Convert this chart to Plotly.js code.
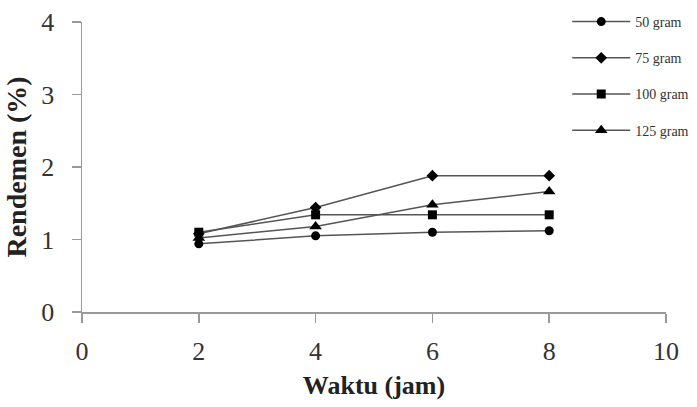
<!DOCTYPE html>
<html><head><meta charset="utf-8">
<script src="https://cdn.plot.ly/plotly-3.0.1.min.js"></script>
<style>html,body{margin:0;padding:0;background:#fff}</style>
</head><body>
<div id="chart" style="width:697px;height:407px"></div>
<script>
const waktu = [2, 4, 6, 8];
const seriesNames = ["50 gram", "75 gram", "100 gram", "125 gram"];
const g50 = [0.94, 1.05, 1.10, 1.12];
const g75 = [1.08, 1.44, 1.88, 1.88];
const g100 = [1.10, 1.34, 1.34, 1.34];
const g125 = [1.02, 1.18, 1.48, 1.66];
const xTicks = [0, 2, 4, 6, 8, 10];
const yTicks = [0, 1, 2, 3, 4];

const symbols = ["circle", "diamond", "square", "triangle-up"];
const sizes = [9, 9, 9, 11];
const data = [g50, g75, g100, g125].map((ys, i) => ({
  x: waktu, y: ys, name: seriesNames[i], type: "scatter", mode: "lines+markers",
  legendgroup: "g" + i,
  line: {color: "#555", width: 1.5},
  marker: {symbol: symbols[i], size: sizes[i], color: "#000"}
}));

const layout = {
  width: 697, height: 407,
  margin: {l: 82, r: 0, t: 6, b: 95},
  paper_bgcolor: "#fff", plot_bgcolor: "#fff",
  font: {family: "Liberation Serif, Times New Roman, serif", color: "#222"},
  showlegend: true,
  legend: {x: 0.789, y: 1, xanchor: "left", yanchor: "top",
    font: {size: 14, family: "Liberation Serif, serif", color: "#333"},
    itemwidth: 58, tracegroupgap: 15, bgcolor: "rgba(0,0,0,0)"},
  xaxis: {domain: [0, 0.9496], range: [0, 10], tickvals: xTicks, ticktext: xTicks.map(String),
    showgrid: false, zeroline: false, showline: true, linecolor: "#999", linewidth: 1.5,
    ticks: "outside", ticklen: 9, tickcolor: "#999", tickwidth: 1.5,
    ticklabelstandoff: 6,
    tickfont: {size: 26, color: "#333"},
    title: {text: "<b>Waktu (jam)</b>", font: {size: 26, color: "#222"}, standoff: 11}},
  yaxis: {domain: [0, 0.948], range: [0, 4], tickvals: yTicks, ticktext: yTicks.map(String),
    showgrid: false, zeroline: false, showline: true, linecolor: "#999", linewidth: 1.5,
    ticks: "outside", ticklen: 9, tickcolor: "#999", tickwidth: 1.5,
    ticklabelstandoff: 12,
    tickfont: {size: 26, color: "#333"},
    title: {text: "<b>Rendemen (%)</b>", font: {size: 28, color: "#222"}, standoff: 6}}
};
Plotly.newPlot("chart", data, layout, {staticPlot: true, displayModeBar: false});
</script>
</body></html>
